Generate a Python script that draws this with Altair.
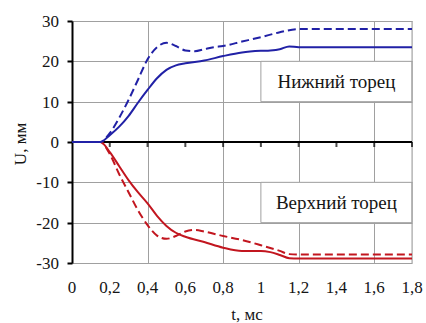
import altair as alt
import pandas as pd

# Displacement U (mm) of the lower and upper end faces versus time t (ms)
t_low_solid = [0, 0.15, 0.2, 0.25, 0.3, 0.35, 0.4, 0.45, 0.5, 0.55, 0.6, 0.7, 0.8, 0.9, 1.0, 1.05, 1.1, 1.15, 1.2, 1.8]
u_low_solid = [0, 0, 1.7, 3.8, 6.5, 9.8, 12.9, 15.8, 17.9, 19.0, 19.5, 20.2, 21.3, 22.2, 22.6, 22.7, 23.0, 23.7, 23.5, 23.5]

t_low_dash = [0, 0.15, 0.2, 0.25, 0.3, 0.35, 0.4, 0.45, 0.5, 0.55, 0.6, 0.65, 0.7, 0.75, 0.8, 0.9, 1.0, 1.1, 1.2, 1.8]
u_low_dash = [0, 0, 2.2, 6.0, 10.5, 15.5, 20.5, 23.5, 24.6, 23.8, 22.7, 22.5, 23.0, 23.5, 23.8, 24.9, 26.0, 27.2, 28.0, 28.0]

t_up_solid = [0, 0.15, 0.2, 0.25, 0.3, 0.35, 0.4, 0.45, 0.5, 0.55, 0.6, 0.7, 0.8, 0.9, 1.0, 1.05, 1.1, 1.15, 1.2, 1.8]
u_up_solid = [0, 0, -2.5, -6.0, -9.5, -12.5, -15.2, -18.3, -20.8, -22.5, -23.5, -24.8, -26.2, -27.0, -27.0, -27.3, -28.0, -28.8, -28.9, -28.9]

t_up_dash = [0, 0.15, 0.2, 0.25, 0.3, 0.35, 0.4, 0.45, 0.5, 0.55, 0.6, 0.65, 0.7, 0.8, 0.9, 1.0, 1.1, 1.15, 1.2, 1.8]
u_up_dash = [0, 0, -3.0, -8.0, -12.5, -17.0, -20.6, -23.2, -24.0, -23.3, -22.2, -21.8, -22.2, -23.3, -24.3, -25.6, -27.0, -27.8, -27.9, -27.9]

x_ticks = [0, 0.2, 0.4, 0.6, 0.8, 1.0, 1.2, 1.4, 1.6, 1.8]
x_tick_labels = ["0", "0,2", "0,4", "0,6", "0,8", "1", "1,2", "1,4", "1,6", "1,8"]
y_ticks = [-30, -20, -10, 0, 10, 20, 30]
y_tick_labels = ["-30", "-20", "-10", "0", "10", "20", "30"]

x_title = "t, мс"
y_title = "U, мм"

# Caption boxes and captions
label_text = ["Нижний торец", "Верхний торец"]
label_t0 = [1.0, 1.0]
label_t1 = [1.8, 1.8]
label_u0 = [10, -20]
label_u1 = [20, -10]
label_t = [1.4, 1.4]
label_u = [15, -15]

BLUE = "#2121A6"
RED = "#C2161F"
GRID = "#A0A0A0"
INK = "#151515"
FONT = "Liberation Serif"

xs = alt.Scale(domain=[0, 1.8], nice=False, zero=False)
ys = alt.Scale(domain=[-30, 30], nice=False)

x_axis = alt.Axis(
    values=x_ticks, grid=True, gridColor=GRID, gridWidth=1,
    domain=False, ticks=False, labels=False, title=None,
)
y_axis = alt.Axis(
    values=y_ticks, grid=True, gridColor=GRID, gridWidth=1,
    domain=True, domainColor="black", domainWidth=2,
    ticks=True, tickColor="black", tickWidth=2, tickSize=5,
    labels=False, title=None,
)

labels = pd.DataFrame({
    "text": label_text, "t0": label_t0, "t1": label_t1,
    "u0": label_u0, "u1": label_u1, "t": label_t, "u": label_u,
})

boxes = alt.Chart(labels).mark_rect(fill="white", stroke=GRID, strokeWidth=1).encode(
    x=alt.X("t0:Q", scale=xs, axis=x_axis),
    x2="t1:Q",
    y=alt.Y("u0:Q", scale=ys, axis=y_axis),
    y2="u1:Q",
)

# Right-hand border of the plotting area
edge = pd.DataFrame({"t": [max(x_ticks)]})
right_edge = alt.Chart(edge).mark_rule(color=GRID, strokeWidth=1).encode(
    x=alt.X("t:Q", scale=xs)
)

# Black t-axis drawn through U = 0 with short downward ticks
zero = pd.DataFrame({"t": x_ticks[1:], "u": [0] * (len(x_ticks) - 1)})
zero_line = alt.Chart(zero).mark_rule(color="black", strokeWidth=2).encode(
    y=alt.Y("min(u):Q", scale=ys)
)
zero_ticks = alt.Chart(zero).mark_tick(
    color="black", thickness=2, size=5, orient="vertical", yOffset=2.5
).encode(
    x=alt.X("t:Q", scale=xs), y=alt.Y("u:Q", scale=ys)
)


def curve(ts, us, color, dashed):
    df = pd.DataFrame({"t": ts, "u": us})
    kw = dict(color=color, strokeWidth=2, interpolate="monotone")
    if dashed:
        kw["strokeDash"] = [8, 4]
    return alt.Chart(df).mark_line(**kw).encode(
        x=alt.X("t:Q", scale=xs), y=alt.Y("u:Q", scale=ys)
    )


captions = alt.Chart(labels).mark_text(
    font=FONT, fontSize=19, color=INK, align="center", baseline="middle"
).encode(
    x=alt.X("t:Q", scale=xs), y=alt.Y("u:Q", scale=ys), text="text:N"
)

# Tick labels and axis titles
xl = pd.DataFrame({"t": x_ticks, "lab": x_tick_labels})
x_labels = alt.Chart(xl).mark_text(
    font=FONT, fontSize=17, color=INK, align="center", baseline="alphabetic"
).encode(
    x=alt.X("t:Q", scale=xs), y=alt.value(272), text="lab:N"
)
yl = pd.DataFrame({"u": y_ticks, "lab": y_tick_labels})
y_labels = alt.Chart(yl).mark_text(
    font=FONT, fontSize=17, color=INK, align="right", baseline="middle", dy=1
).encode(
    x=alt.value(-13), y=alt.Y("u:Q", scale=ys), text="lab:N"
)
titles = pd.DataFrame({"lab": [x_title, y_title]})
x_title_mark = alt.Chart(titles).transform_filter(
    alt.datum.lab == x_title
).mark_text(
    font=FONT, fontSize=17, color=INK, align="center", baseline="alphabetic"
).encode(
    x=alt.value(175), y=alt.value(299), text="lab:N"
)
y_title_mark = alt.Chart(titles).transform_filter(
    alt.datum.lab == y_title
).mark_text(
    font=FONT, fontSize=17, color=INK, align="center", baseline="middle", angle=270
).encode(
    x=alt.value(-51), y=alt.value(123), text="lab:N"
)

chart = alt.layer(
    boxes,
    right_edge,
    zero_line,
    zero_ticks,
    curve(t_up_dash, u_up_dash, RED, True),
    curve(t_up_solid, u_up_solid, RED, False),
    curve(t_low_dash, u_low_dash, BLUE, True),
    curve(t_low_solid, u_low_solid, BLUE, False),
    captions,
    x_labels,
    y_labels,
    x_title_mark,
    y_title_mark,
).properties(
    width=340, height=242,
    autosize=alt.AutoSizeParams(type="none"),
    padding={"left": 72, "top": 21, "right": 14, "bottom": 60},
)

chart.save("out.html", embed_options={"renderer": "svg", "actions": False})
